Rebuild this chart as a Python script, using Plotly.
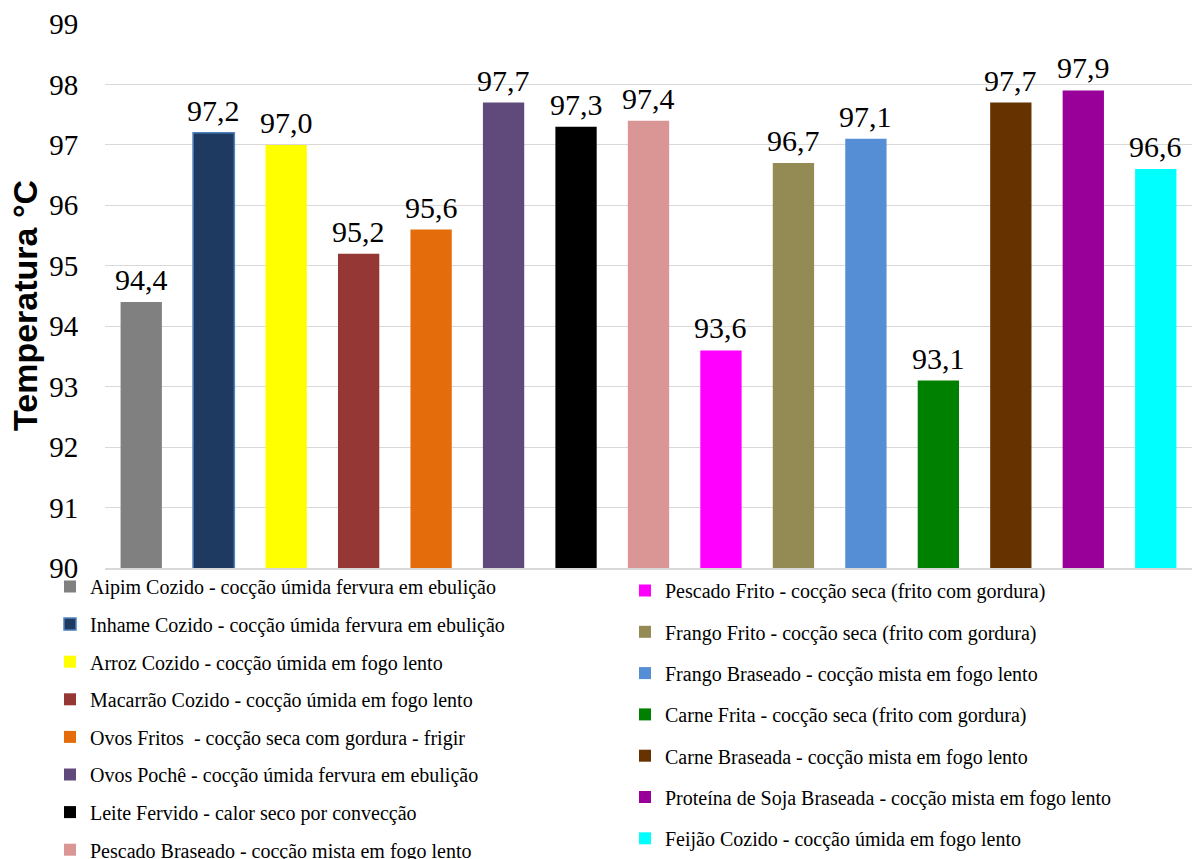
import plotly.graph_objects as go

categories = [
    "Aipim Cozido - cocção úmida fervura em ebulição",
    "Inhame Cozido - cocção úmida fervura em ebulição",
    "Arroz Cozido - cocção úmida em fogo lento",
    "Macarrão Cozido - cocção úmida em fogo lento",
    "Ovos Fritos  - cocção seca com gordura - frigir",
    "Ovos Pochê - cocção úmida fervura em ebulição",
    "Leite Fervido - calor seco por convecção",
    "Pescado Braseado - cocção mista em fogo lento",
    "Pescado Frito - cocção seca (frito com gordura)",
    "Frango Frito - cocção seca (frito com gordura)",
    "Frango Braseado - cocção mista em fogo lento",
    "Carne Frita - cocção seca (frito com gordura)",
    "Carne Braseada - cocção mista em fogo lento",
    "Proteína de Soja Braseada - cocção mista em fogo lento",
    "Feijão Cozido - cocção úmida em fogo lento",
]
values = [94.4, 97.2, 97.0, 95.2, 95.6, 97.7, 97.3, 97.4, 93.6, 96.7, 97.1, 93.1, 97.7, 97.9, 96.6]
colors = ["#808080", "#1F3A60", "#FFFF00", "#953735", "#E46C0A", "#604A7B", "#000000", "#D99694",
          "#FF00FF", "#948A54", "#558ED5", "#008000", "#663300", "#990099", "#00FFFF"]
outline = ["rgba(0,0,0,0)", "#4F81BD"] + ["rgba(0,0,0,0)"] * 13
y_ticks = [90, 91, 92, 93, 94, 95, 96, 97, 98, 99]
y_title = "Temperatura °C"

serif = "Liberation Serif"

fig = go.Figure()
for i, (cat, v) in enumerate(zip(categories, values)):
    fig.add_trace(go.Bar(
        x=[i], y=[v], name=cat,
        marker=dict(color=colors[i], line=dict(color=outline[i], width=1.5)),
        width=0.57,
        legend="legend" if i < 8 else "legend2",
        legendgroup=f"g{i}",
        showlegend=True,
    ))
    fig.add_annotation(
        x=i, y=v, xref="x", yref="y", yanchor="bottom", yshift=4,
        text=f"{v:.1f}".replace(".", ","), showarrow=False,
        font=dict(family=serif, size=30, color="black"),
    )

fig.add_annotation(
    x=(25 - 105) / (1192 - 105), y=(859 - 306 - 291) / (859 - 24 - 291),
    xref="paper", yref="paper",
    text=f"<b>{y_title}</b>", textangle=-90, showarrow=False,
    xanchor="center", yanchor="middle",
    font=dict(family="Liberation Sans", size=34, color="black"),
)

fig.update_layout(
    width=1192, height=859,
    margin=dict(l=105, r=0, t=24, b=291, autoexpand=False),
    barmode="overlay",
    plot_bgcolor="white", paper_bgcolor="white",
    font=dict(family=serif, color="black"),
    xaxis=dict(range=[-0.5, 14.5], showticklabels=False, showgrid=False, zeroline=False,
               showline=True, linecolor="#d9d9d9", linewidth=1.5, ticks=""),
    yaxis=dict(range=[90, 99], tickvals=y_ticks, showgrid=True, gridcolor="#d9d9d9", gridwidth=1.3,
               zeroline=False, tickfont=dict(family=serif, size=29, color="black"),
               ticks="outside", ticklen=20, tickcolor="rgba(0,0,0,0)"),
    legend=dict(xref="container", yref="container", x=50 / 1192, y=1 - 567 / 859,
                xanchor="left", yanchor="top", tracegroupgap=8.6, itemwidth=30,
                font=dict(family=serif, size=20, color="black"), bgcolor="rgba(0,0,0,0)"),
    legend2=dict(xref="container", yref="container", x=625 / 1192, y=1 - 571 / 859,
                 xanchor="left", yanchor="top", tracegroupgap=12.3, itemwidth=30,
                 font=dict(family=serif, size=20, color="black"), bgcolor="rgba(0,0,0,0)"),
)

fig.write_html("out.html")
